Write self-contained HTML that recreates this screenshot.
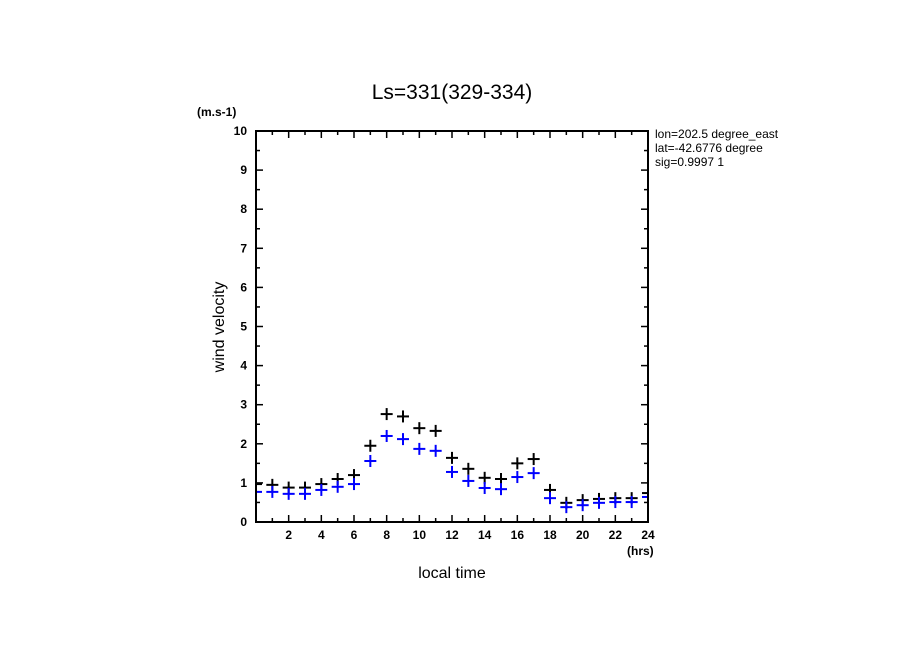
<!DOCTYPE html>
<html><head><meta charset="utf-8"><style>
body{margin:0;background:#fff;}
svg{display:block;font-family:"Liberation Sans",sans-serif;}
</style></head><body>
<svg id="chart" width="904" height="654">
<defs><clipPath id="plotclip"><rect x="256" y="131" width="392" height="391"/></clipPath></defs>
<rect width="904" height="654" fill="#fff"/>
<text x="452" y="99" font-size="21" text-anchor="middle">Ls=331(329-334)</text>
<text x="197" y="116" font-size="12" font-weight="bold">(m.s-1)</text>
<text x="627" y="555" font-size="12" font-weight="bold">(hrs)</text>
<text x="452" y="578" font-size="16" text-anchor="middle">local time</text>
<text transform="translate(224,327) rotate(-90)" font-size="16" text-anchor="middle">wind velocity</text>
<text x="655" y="138" font-size="12">lon=202.5 degree_east</text>
<text x="655" y="152" font-size="12">lat=-42.6776 degree</text>
<text x="655" y="166" font-size="12">sig=0.9997 1</text>
<rect x="779" y="128" width="125" height="45" fill="#fff"/>
<g id="axes"></g>
<g id="marks" clip-path="url(#plotclip)"></g>
<rect x="256" y="131" width="392" height="391" fill="none" stroke="#000" stroke-width="2"/>
</svg>
<script>
const hours=[0,1,2,3,4,5,6,7,8,9,10,11,12,13,14,15,16,17,18,19,20,21,22,23,24];
const seriesBlack=[0.97,0.95,0.88,0.88,0.97,1.1,1.2,1.95,2.76,2.7,2.4,2.33,1.64,1.36,1.13,1.1,1.5,1.61,0.82,0.49,0.56,0.59,0.61,0.61,0.74];
const seriesBlue=[0.77,0.77,0.72,0.72,0.82,0.9,0.97,1.56,2.2,2.12,1.87,1.82,1.28,1.05,0.87,0.84,1.15,1.25,0.61,0.38,0.43,0.49,0.51,0.51,0.64];
const yTicks=[0,1,2,3,4,5,6,7,8,9,10];
const xTickLabels=[2,4,6,8,10,12,14,16,18,20,22,24];
const X0=256,X1=648,Y0=522,Y1=131;
const sx=v=>X0+(X1-X0)*v/24;
const sy=v=>Y0-(Y0-Y1)*v/10;
const NS="http://www.w3.org/2000/svg";
const axes=document.getElementById('axes'),marks=document.getElementById('marks');
function line(p,x1,y1,x2,y2,c,w){const l=document.createElementNS(NS,'line');l.setAttribute('x1',x1);l.setAttribute('y1',y1);l.setAttribute('x2',x2);l.setAttribute('y2',y2);l.setAttribute('stroke',c);l.setAttribute('stroke-width',w);p.appendChild(l);return l;}
function txt(p,x,y,s,anchor){const t=document.createElementNS(NS,'text');t.setAttribute('x',x);t.setAttribute('y',y);t.setAttribute('font-size','12');t.setAttribute('font-weight','bold');t.setAttribute('text-anchor',anchor);t.textContent=s;p.appendChild(t);return t;}
for(let v=0;v<=10.001;v+=0.5){const y=sy(v);const major=Math.abs(v-Math.round(v))<1e-6;const len=major?7:4;
 line(axes,X0,y,X0+len,y,'#000',1.5);line(axes,X1,y,X1-len,y,'#000',1.5);}
yTicks.forEach(v=>{const t=txt(axes,247,sy(v)+4,String(v),'end');

});
for(let h=0;h<=24;h++){const x=sx(h);const len=h%2===0?7:4;
 line(axes,x,Y0,x,Y0-len,'#000',1.5);line(axes,x,Y1,x,Y1+len,'#000',1.5);}
xTickLabels.forEach(v=>{const t=txt(axes,sx(v),539,String(v),'middle');

});
function plus(v,h,c,name){const g=document.createElementNS(NS,'g');


const x=sx(h),y=sy(v);line(g,x-6,y,x+6,y,c,2);line(g,x,y-6,x,y+6,c,2);marks.appendChild(g);}
hours.forEach((h,i)=>plus(seriesBlack[i],h,'#000','black-marker'));
hours.forEach((h,i)=>plus(seriesBlue[i],h,'#0000ff','blue-marker'));
</script>
</body></html>
